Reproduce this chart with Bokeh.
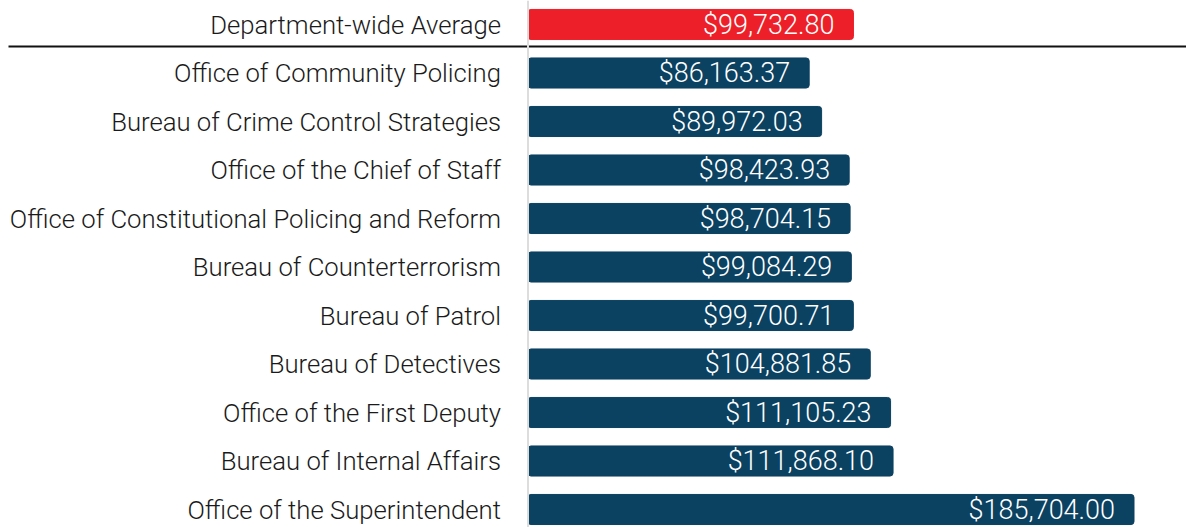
from bokeh.plotting import figure
from bokeh.models import ColumnDataSource, Range1d, Span
from bokeh.core.properties import value
from bokeh.embed import file_html
from bokeh.resources import INLINE

categories = [
    "Department-wide Average",
    "Office of Community Policing",
    "Bureau of Crime Control Strategies",
    "Office of the Chief of Staff",
    "Office of Constitutional Policing and Reform",
    "Bureau of Counterterrorism",
    "Bureau of Patrol",
    "Bureau of Detectives",
    "Office of the First Deputy",
    "Bureau of Internal Affairs",
    "Office of the Superintendent",
]
salaries = [99732.80, 86163.37, 89972.03, 98423.93, 98704.15, 99084.29,
            99700.71, 104881.85, 111105.23, 111868.10, 185704.00]
colors = ["#ED1F29"] + ["#0B4161"] * 10

W, H = 1186, 527
k = 185704.0 / 606.0  # dollars per pixel
zero_px = 527.5
row_h = 48.5
top_px = 24

ys = list(range(len(categories)))
src = ColumnDataSource(dict(
    y=ys, cat=categories, val=salaries, color=colors,
    lbl=["${:,.2f}".format(v) for v in salaries], zero=[0] * len(ys),
))

p = figure(width=W, height=H, output_backend="svg", toolbar_location=None,
           x_range=Range1d(-zero_px * k, (W - zero_px) * k),
           y_range=Range1d((H - top_px) / row_h, -top_px / row_h),
           min_border=0, outline_line_color=None)
p.axis.visible = False
p.grid.visible = False
p.background_fill_color = "white"

p.add_layout(Span(location=0, dimension="height", line_color="#DDDDDD", line_width=2))

p.hbar(y="y", left=0, right="val", height=0.62, color="color", source=src,
       border_radius=3)

sep_y = (46 - top_px) / row_h
p.segment(x0=[-(zero_px - 8) * k], x1=[(W - zero_px + 5) * k], y0=[sep_y], y1=[sep_y],
          line_color="#111111", line_width=2)

font = value("Roboto Light")
p.text(x="zero", y="y", text="cat", source=src, text_align="right",
       text_baseline="middle", x_offset=-27, text_color="#1a1a1a",
       text_font=font, text_font_size="25.7px")
p.text(x="val", y="y", text="lbl", source=src, text_align="right",
       text_baseline="middle", x_offset=-19, text_color="white",
       text_font=font, text_font_size="27px")

open("out.html", "w").write(file_html(p, INLINE))
